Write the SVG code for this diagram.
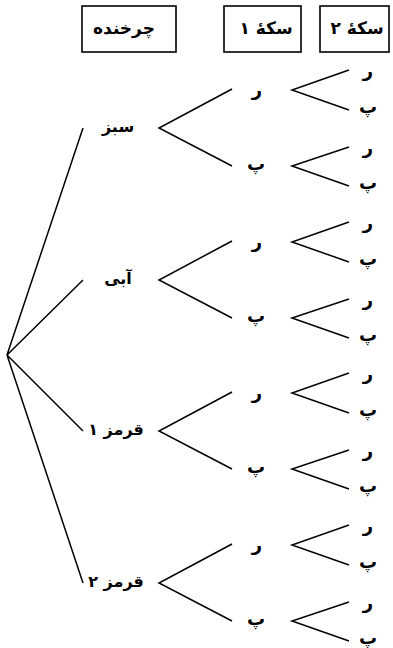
<svg xmlns="http://www.w3.org/2000/svg" width="393" height="648" viewBox="0 0 393 648">
<style>
.ln{stroke:#000;stroke-width:1.5;fill:none}
.bx{stroke:#000;stroke-width:1.6;fill:#fff}
text{font-family:"DejaVu Sans","Noto Sans",sans-serif;font-weight:bold;font-size:16px;fill:#000;text-anchor:middle;dominant-baseline:central}
.h{font-size:17px}
.c{font-size:18px}
</style>
<rect width="393" height="648" fill="#fff"/>
<g id="headers">
<g id="h-spinner"><rect class="bx" x="82" y="6" width="94" height="46"/><text class="h" x="124" y="28" direction="rtl">چرخنده</text></g>
<g id="h-coin1"><rect class="bx" x="224" y="6" width="77" height="46"/><text class="h" x="266" y="28" direction="rtl">سکهٔ ۱</text></g>
<g id="h-coin2"><rect class="bx" x="320" y="6" width="69" height="46"/><text class="h" x="357" y="28" direction="rtl">سکهٔ ۲</text></g>
</g>
<g id="connectors">
<path class="ln" d="M7,355L83,128M7,355L83,280M7,355L83,431M7,355L83,583"/>
<path class="ln" d="M232,89L159,128L232,166M349,70L292,90L349,110M349,147L292,166L349,186"/>
<path class="ln" d="M232,241L159,280L232,318M349,222L292,242L349,262M349,299L292,318L349,338"/>
<path class="ln" d="M232,392L159,431L232,469M349,373L292,393L349,413M349,450L292,469L349,489"/>
<path class="ln" d="M232,544L159,583L232,621M349,525L292,545L349,565M349,602L292,621L349,641"/>
</g>
<g id="n-sabz"><text x="118" y="126">سبز</text></g>
<g id="n-abi"><text x="118" y="278">آبی</text></g>
<g id="n-red1"><text x="116" y="429" direction="rtl">قرمز ۱</text></g>
<g id="n-red2"><text x="116" y="581" direction="rtl">قرمز ۲</text></g>
<g id="coin1" class="c">
<text class="c" x="257" y="89">ر</text><text class="c" x="256" y="163">پ</text>
<text class="c" x="257" y="241">ر</text><text class="c" x="256" y="315">پ</text>
<text class="c" x="257" y="392">ر</text><text class="c" x="256" y="466">پ</text>
<text class="c" x="257" y="544">ر</text><text class="c" x="256" y="618">پ</text>
</g>
<g id="coin2">
<text class="c" x="368" y="70">ر</text><text class="c" x="368" y="106">پ</text><text class="c" x="368" y="147">ر</text><text class="c" x="368" y="182">پ</text>
<text class="c" x="368" y="222">ر</text><text class="c" x="368" y="258">پ</text><text class="c" x="368" y="299">ر</text><text class="c" x="368" y="334">پ</text>
<text class="c" x="368" y="373">ر</text><text class="c" x="368" y="409">پ</text><text class="c" x="368" y="450">ر</text><text class="c" x="368" y="485">پ</text>
<text class="c" x="368" y="525">ر</text><text class="c" x="368" y="561">پ</text><text class="c" x="368" y="602">ر</text><text class="c" x="368" y="637">پ</text>
</g>
</svg>
